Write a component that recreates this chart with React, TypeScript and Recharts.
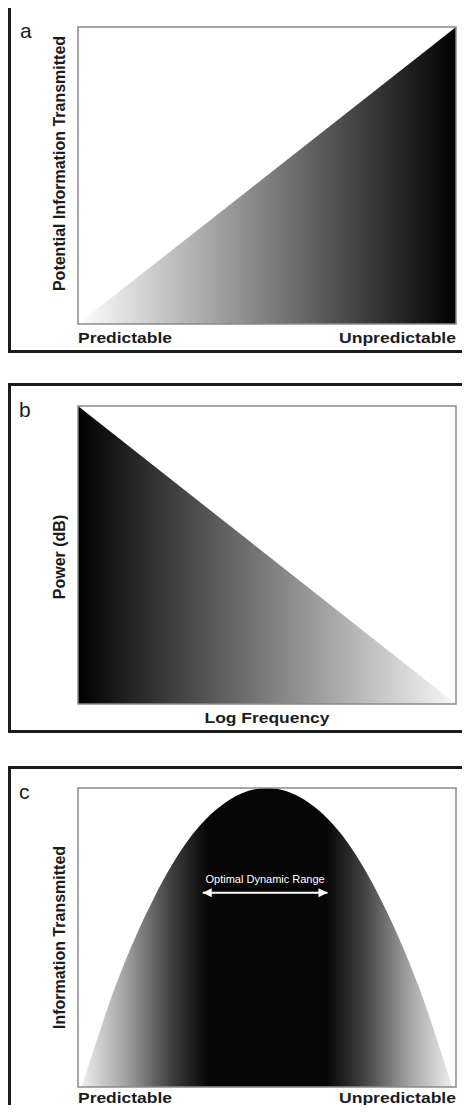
import React from 'react';
import {
  AreaChart,
  Area,
  XAxis,
  YAxis,
  ReferenceArea,
  ReferenceLine,
  ReferenceDot,
} from 'recharts';

// Panel texts
const panelLetters = ['a', 'b', 'c'];
const yTitles = ['Potential Information Transmitted', 'Power (dB)', 'Information Transmitted'];
const endTickValues = [0, 1];
const endTickLabels = ['Predictable', 'Unpredictable'];
const bFrequencyTitle = 'Log Frequency';
const arrowLabel = 'Optimal Dynamic Range';

// Series (x from left to right of the frame, y from 0 to 1)
const rampX = [0, 1];
const rampUpY = [0, 1];
const rampDownY = [1, 0];
const bellX = [0.01, 0.1, 0.2, 0.3, 0.4, 0.5, 0.6, 0.7, 0.8, 0.9, 0.99];
const bellY = [0, 0.34, 0.63, 0.84, 0.96, 1, 0.96, 0.84, 0.63, 0.34, 0];
const arrowX = [0.33, 0.66];
const arrowY = 0.65;

const dataA = rampX.map((x, i) => ({ x, y: rampUpY[i] }));
const dataB = rampX.map((x, i) => ({ x, y: rampDownY[i] }));
const dataC = bellX.map((x, i) => ({ x, y: bellY[i] }));

const FONT = '"Liberation Sans", Arial, Helvetica, sans-serif';
const INK = '#1c1c1c';
const W = 462;

const makeEndTick = (dy: number) => (props: any) => {
  const { x, y, payload } = props;
  const i = endTickValues.indexOf(payload.value);
  const label = endTickLabels[i];
  return (
    <text
      x={x}
      y={y + dy}
      textAnchor={i === 0 ? 'start' : 'end'}
      fontFamily={FONT}
      fontWeight="bold"
      fontSize={15}
      fill={INK}
      textLength={i === 0 ? 94 : 117}
      lengthAdjust="spacingAndGlyphs"
    >
      {label}
    </text>
  );
};

const yTitle = (text: string, shift: number) => (props: any) => {
  const vb = props.viewBox;
  const cx = 51;
  const cy = vb.y + vb.height / 2 + shift;
  return (
    <text
      x={cx}
      y={cy}
      transform={`rotate(-90 ${cx} ${cy})`}
      textAnchor="middle"
      dominantBaseline="central"
      fontFamily={FONT}
      fontWeight="bold"
      fontSize={16}
      fill={INK}
    >
      {text}
    </text>
  );
};

const Frame = () => (
  <ReferenceArea x1={0} x2={1} y1={0} y2={1} fill="none" stroke="#8a8a8a" strokeWidth={1.5} />
);

const Border = ({ top, height }: { top: number; height: number }) => (
  <div
    style={{
      position: 'absolute',
      left: 0,
      top,
      width: W + 10,
      height,
      border: `3px solid ${INK}`,
      boxSizing: 'border-box',
    }}
  />
);

const Letter = ({ top, left, children }: { top: number; left: number; children: string }) => (
  <div
    style={{
      position: 'absolute',
      top,
      left,
      fontFamily: FONT,
      fontSize: 21,
      lineHeight: '21px',
      color: INK,
    }}
  >
    {children}
  </div>
);

const ArrowHead = (dir: number) => (props: any) => {
  const { cx, cy } = props;
  return (
    <polygon
      points={`${cx},${cy} ${cx - dir * 9},${cy - 4.5} ${cx - dir * 9},${cy + 4.5}`}
      fill="#ffffff"
    />
  );
};

const App: React.FC = () => {
  return (
    <div
      style={{
        position: 'relative',
        width: W,
        height: 1110,
        marginTop: -5,
        marginBottom: -8,
        overflow: 'hidden',
        background: '#fff',
      }}
    >
      <Border top={0} height={350} />
      <Border top={380} height={350} />
      <Border top={763} height={400} />

      {/* panel a */}
      <div style={{ position: 'absolute', top: 0, left: 0 }}>
        <AreaChart width={W} height={350} data={dataA} margin={{ top: 24, right: 14, left: 0, bottom: 0 }}>
          <defs>
            <linearGradient id="gradA" x1="0" y1="0" x2="1" y2="0">
              <stop offset="0%" stopColor="#ffffff" />
              <stop offset="100%" stopColor="#000000" />
            </linearGradient>
          </defs>
          <XAxis
            dataKey="x"
            type="number"
            domain={[0, 1]}
            ticks={endTickValues}
            tick={makeEndTick(19)}
            tickLine={false}
            axisLine={false}
            tickSize={0}
            tickMargin={0}
            height={29}
          />
          <YAxis
            type="number"
            domain={[0, 1]}
            tick={false}
            axisLine={false}
            tickLine={false}
            width={70}
            label={{ content: yTitle(yTitles[0], -12) }}
          />
          <Area dataKey="y" type="linear" stroke="none" fill="url(#gradA)" fillOpacity={1} isAnimationActive={false} />
          {Frame()}
        </AreaChart>
      </div>

      {/* panel b */}
      <div style={{ position: 'absolute', top: 381, left: 0 }}>
        <AreaChart width={W} height={348} data={dataB} margin={{ top: 22, right: 14, left: 0, bottom: 0 }}>
          <defs>
            <linearGradient id="gradB" x1="0" y1="0" x2="1" y2="0">
              <stop offset="0%" stopColor="#000000" />
              <stop offset="100%" stopColor="#f8f8f8" />
            </linearGradient>
          </defs>
          <XAxis
            dataKey="x"
            type="number"
            domain={[0, 1]}
            tick={false}
            tickLine={false}
            axisLine={false}
            height={28}
            label={{
              content: (p: any) => (
                <text
                  x={p.viewBox.x + p.viewBox.width / 2}
                  y={p.viewBox.y + 19}
                  textAnchor="middle"
                  fontFamily={FONT}
                  fontWeight="bold"
                  fontSize={15}
                  fill={INK}
                  textLength={125}
                  lengthAdjust="spacingAndGlyphs"
                >
                  {bFrequencyTitle}
                </text>
              ),
            }}
          />
          <YAxis
            type="number"
            domain={[0, 1]}
            tick={false}
            axisLine={false}
            tickLine={false}
            width={70}
            label={{ content: yTitle(yTitles[1], 2) }}
          />
          <Area dataKey="y" type="linear" stroke="none" fill="url(#gradB)" fillOpacity={1} isAnimationActive={false} />
          {Frame()}
        </AreaChart>
      </div>

      {/* panel c */}
      <div style={{ position: 'absolute', top: 764, left: 0 }}>
        <AreaChart width={W} height={346} data={dataC} margin={{ top: 21, right: 14, left: 0, bottom: 0 }}>
          <defs>
            <linearGradient id="gradC" x1="0" y1="0" x2="1" y2="0">
              <stop offset="0%" stopColor="#eeeeee" />
              <stop offset="12%" stopColor="#a0a0a0" />
              <stop offset="24%" stopColor="#404040" />
              <stop offset="34%" stopColor="#060606" />
              <stop offset="66%" stopColor="#060606" />
              <stop offset="76%" stopColor="#404040" />
              <stop offset="88%" stopColor="#a0a0a0" />
              <stop offset="100%" stopColor="#eeeeee" />
            </linearGradient>
          </defs>
          <XAxis
            dataKey="x"
            type="number"
            domain={[0, 1]}
            ticks={endTickValues}
            tick={makeEndTick(16)}
            tickLine={false}
            axisLine={false}
            tickSize={0}
            tickMargin={0}
            height={26}
          />
          <YAxis
            type="number"
            domain={[0, 1]}
            tick={false}
            axisLine={false}
            tickLine={false}
            width={70}
            label={{ content: yTitle(yTitles[2], 0) }}
          />
          <Area dataKey="y" type="monotone" stroke="none" fill="url(#gradC)" fillOpacity={1} isAnimationActive={false} />
          {Frame()}
          <ReferenceLine
            segment={[
              { x: arrowX[0], y: arrowY },
              { x: arrowX[1], y: arrowY },
            ]}
            stroke="#ffffff"
            strokeWidth={2}
            label={{
              value: arrowLabel,
              position: 'top',
              offset: 10,
              fill: '#ffffff',
              fontSize: 11,
              fontFamily: FONT,
            }}
          />
          <ReferenceDot x={arrowX[0]} y={arrowY} r={0} shape={ArrowHead(-1)} />
          <ReferenceDot x={arrowX[1]} y={arrowY} r={0} shape={ArrowHead(1)} />
        </AreaChart>
      </div>

      <Letter top={17} left={12}>{panelLetters[0]}</Letter>
      <Letter top={396} left={11}>{panelLetters[1]}</Letter>
      <Letter top={778} left={11}>{panelLetters[2]}</Letter>
    </div>
  );
};

export default App;
